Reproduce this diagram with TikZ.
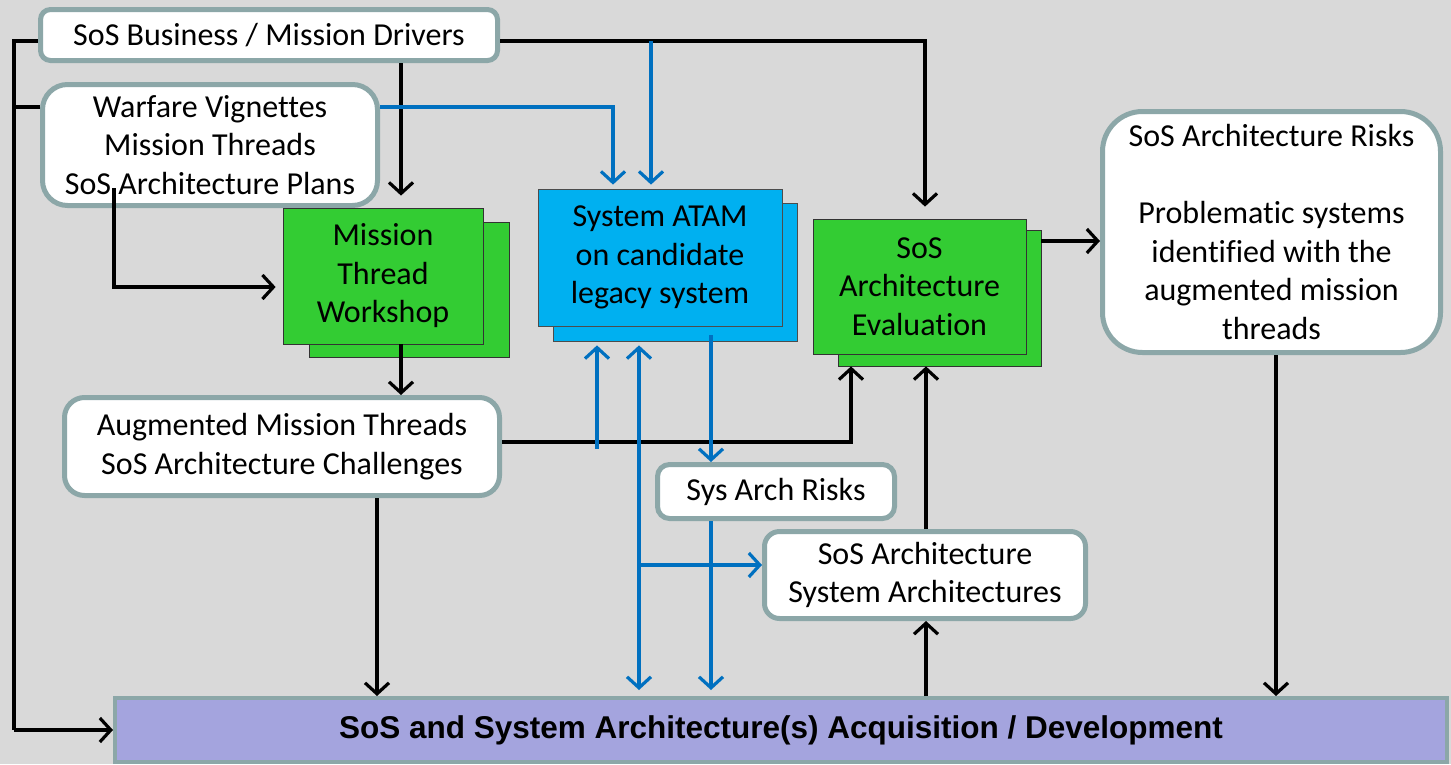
\documentclass[tikz,border=0pt]{standalone}
\usepackage{fontspec}
\setmainfont{Carlito}[Ligatures=NoCommon]
\newfontfamily\arialfont{Liberation Sans}
\usetikzlibrary{arrows.meta,calc}
\definecolor{bgc}{HTML}{D9D9D9}
\definecolor{bordc}{HTML}{8CA7A8}
\definecolor{grn}{HTML}{33CC33}
\definecolor{atamc}{HTML}{00B0F0}
\definecolor{bluline}{HTML}{0070C0}
\definecolor{barc}{HTML}{A4A4DE}
\begin{document}
\begin{tikzpicture}[x=1pt,y=-1pt,
  txt/.style={font=\fontsize{32}{38.5}\selectfont, align=center, text=black},
  rbox/.style={txt, draw=bordc, line width=5pt, fill=white, rounded corners=#1, inner sep=0pt},
  rbox/.default=10pt,
  gbox/.style={txt, draw=black!80, line width=0.8pt, fill=grn, inner sep=0pt},
  bbox/.style={txt, draw=black!70, line width=0.8pt, fill=atamc, inner sep=0pt},
  blk/.style={draw=black, line width=3.2pt},
  blu/.style={draw=bluline, line width=3.2pt},
  arr/.style={-{Straight Barb[length=11pt,width=24pt]}},
]
\useasboundingbox (0,0) rectangle (1451,764);
\fill[bgc] (0,0) rectangle (1451,764);

% rounded white boxes
\node[rbox=10pt, minimum width=457, minimum height=51] (drv) at (269,35) {\raisebox{-2pt}{SoS Business / Mission Drivers}};
\node[rbox=25pt, minimum width=335, minimum height=121] (vig) at (210,145) {Warfare Vignettes\\Mission Threads\\SoS Architecture Plans};
\node[rbox=20pt, minimum width=435, minimum height=98] (aug) at (282,446.5) {Augmented Mission Threads\\SoS Architecture Challenges};
\node[rbox=40pt, minimum width=338, minimum height=241] (risk) at (1271.5,232) {SoS Architecture Risks\\[38.5pt]Problematic systems\\identified with the\\augmented mission\\threads};
\node[rbox=12pt, minimum width=237, minimum height=54] (sar) at (776,491.5) {Sys Arch Risks};
\node[rbox=15pt, minimum width=321, minimum height=87] (sa) at (925,575) {SoS Architecture\\System Architectures};

% bottom bar
\node[draw=bordc, line width=4pt, fill=barc, minimum width=1332, minimum height=64, inner sep=0pt,
      font=\arialfont\bfseries\fontsize{31.5}{36}\selectfont] (bar) at (781,730) {\raisebox{-3pt}{SoS and System Architecture(s) Acquisition / Development}};

% stacked boxes
\node[gbox, minimum width=200, minimum height=135] (wsb) at (409,289.5) {};
\node[gbox, minimum width=200, minimum height=136] (ws) at (383,276) {Mission\\Thread\\Workshop};
\node[bbox, minimum width=244, minimum height=138] (atb) at (675,272) {};
\node[bbox, minimum width=244, minimum height=137] (at) at (660,257.5) {System ATAM\\on candidate\\legacy system};
\node[gbox, minimum width=203, minimum height=136] (evb) at (939.5,298) {};
\node[gbox, minimum width=213, minimum height=135] (ev) at (919.5,286.5) {SoS\\Architecture\\Evaluation};

% named free ends
\coordinate (busTop) at (14,41);
\coordinate (busBot) at (14,730);
\coordinate (vs) at (114,188);
\coordinate (bj) at (651,41);
\coordinate (b3s) at (597,449);
\coordinate (bb) at (639,565);

% black connectors
\draw[blk] (drv.west |- busTop) -- (busTop) -- (busBot);
\draw[blk,arr] (busBot) -- (bar.west);
\draw[blk] (vig.west |- 0,107) -- (busTop |- 0,107);
\draw[blk,arr,shorten >=12pt] (drv.east |- 0,41) -| (ev.north -| 925,0);
\draw[blk,arr,shorten >=12pt] (drv.south -| 401,0) -- (ws.north -| 401,0);
\draw[blk,arr,shorten >=7pt] (vs) |- (ws.west |- 0,287);
\draw[blk,arr] (ws.south -| 401,0) -- (aug.north -| 401,0);
\draw[blk,arr] (aug.east |- 0,442) -| (evb.south -| 851,0);
\draw[blk,arr] (aug.south -| 377,0) -- (bar.north -| 377,0);
\draw[blk,arr] (sa.north -| 926,0) -- (evb.south -| 926,0);
\draw[blk,arr] (bar.north -| 926,0) -- (sa.south -| 926,0);
\draw[blk,arr] (evb.east |- 0,241) -- (risk.west |- 0,241);
\draw[blk,arr] (risk.south -| 1276,0) -- (bar.north -| 1276,0);

% blue connectors
\draw[blu,arr,shorten >=4pt] (bj) -- (at.north -| bj);
\draw[blu,arr,shorten >=4pt] (vig.east |- 0,107) -| (at.north -| 613,0);
\draw[blu,arr,shorten >=4pt] (b3s) -- (atb.south -| b3s);
\draw[blu,{Straight Barb[length=11pt,width=24pt]}-{Straight Barb[length=11pt,width=24pt]},shorten <=6pt,shorten >=4pt] (bar.north -| 639,0) -- (atb.south -| 639,0);
\draw[blu,arr] (bb) -- (sa.west |- bb);
\draw[blu,arr] ([yshift=6pt]atb.south -| 711,0) -- (sar.north -| 711,0);
\draw[blu,arr,shorten >=6pt] (sar.south -| 711,0) -- (bar.north -| 711,0);
\end{tikzpicture}
\end{document}
